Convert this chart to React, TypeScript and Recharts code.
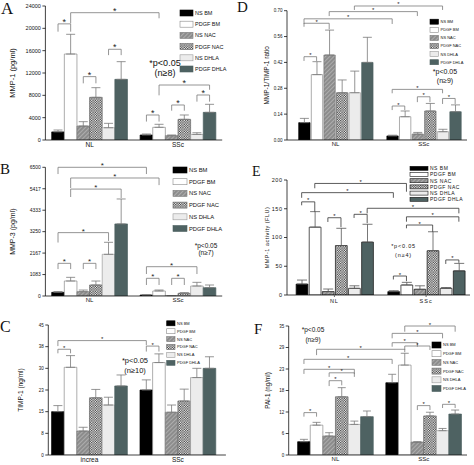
import React from "react";
import { BarChart, Bar, XAxis, YAxis, ErrorBar, Cell, ReferenceLine } from "recharts";

const series = ["NS BM", "PDGF BM", "NS NAC", "PDGF NAC", "NS DHLA", "PDGF DHLA"];
const groups = ["NL", "SSc"];
const groupsC = ["increa", "SSc"];

// A: MMP-1 (pg/ml)
const mmp1NL = [1450, 15400, 2500, 7640, 2200, 10860];
const mmp1NLErr = [340, 3530, 780, 1730, 785, 3170];
const mmp1SSc = [895, 2270, 780, 3700, 1000, 4950];
const mmp1SScErr = [180, 540, 120, 780, 300, 1440];
const mmp1Ticks = [0, 4000, 8000, 12000, 16000, 20000, 24000];
const mmp1TickLabels = ["0", "4000", "8000", "12000", "16000", "20000", "24000"];
// bracket: [from bar, to bar, top, left leg end, right leg end]
const mmp1Sig = [
  [0, 1, 20800, 19400, 19400],
  [1, 8, 22800, 20900, 21800],
  [2, 3, 11350, 10150, 10150],
  [4, 5, 16250, 15200, 15200],
  [7, 8, 4480, 3300, 3300],
  [9, 10, 6270, 5250, 5250],
  [11, 12, 8060, 6870, 6870],
  [8, 12, 9850, 8000, 9000],
];

// D: MMP-1/TIMP-1 ratio
const ratioNL = [0.094, 0.354, 0.46, 0.256, 0.256, 0.42];
const ratioNLErr = [0.023, 0.07, 0.135, 0.069, 0.117, 0.136];
const ratioSSc = [0.022, 0.126, 0.032, 0.157, 0.045, 0.153];
const ratioSScErr = [0.004, 0.031, 0.009, 0.041, 0.013, 0.037];
const ratioTicks = [0, 0.14, 0.28, 0.42, 0.56, 0.7];
const ratioTickLabels = ["0.00", "0.14", "0.28", "0.42", "0.56", "0.70"];
const ratioSig = [
  [4, 11, 0.7255, 0.704, 0.704],
  [2, 9, 0.695, 0.671, 0.671],
  [0, 7, 0.656, 0.628, 0.628],
  [0, 2, 0.632, 0.613, 0.6],
  [0, 1, 0.451, 0.428, 0.428],
  [7, 11, 0.274, 0.253, 0.253],
  [7, 8, 0.184, 0.162, 0.162],
  [9, 10, 0.234, 0.205, 0.205],
  [11, 12, 0.225, 0.195, 0.195],
];

// B: MMP-3 (pg/ml)
const mmp3NL = [185, 758, 220, 556, 2105, 3640];
const mmp3NLErr = [40, 185, 80, 200, 607, 1260];
const mmp3SSc = [50, 253, 17, 135, 505, 420];
const mmp3SScErr = [10, 50, 8, 35, 185, 136];
const mmp3Ticks = [0, 1083, 2167, 3250, 4333, 5417, 6500];
const mmp3TickLabels = ["0", "1083", "2167", "3250", "4333", "5417", "6500"];
const mmp3Sig = [
  [0, 7, 6500, 6160, 6160],
  [1, 8, 5960, 5450, 5600],
  [1, 5, 5400, 5000, 4950],
  [0, 4, 3200, 2700, 2780],
  [0, 1, 1650, 1360, 1360],
  [2, 3, 1650, 1360, 1360],
  [7, 11, 1480, 1110, 1110],
  [7, 8, 894, 556, 556],
  [9, 10, 894, 556, 556],
];

// E: MMP-1 activity (FLU)
const actNL = [19, 118, 6, 86, 11.6, 92];
const actNLErr = [7, 27, 4.4, 30, 4.4, 31];
const actSSc = [5.8, 17.4, 9.9, 77, 11.6, 42];
const actSScErr = [1.7, 4.6, 6.1, 33, 1.4, 13];
const actTicks = [0, 50, 100, 150, 200];
const actTickLabels = ["0", "50", "100", "150", "200"];
const actSig = [
  [1, 8, 194, 185.6, 179.6],
  [0, 7, 178, 169, 169],
  [0, 1, 162, 156, 145],
  [2, 3, 134.4, 127, 118],
  [4, 5, 140.3, 134, 125],
  [5, 12, 150.8, 142, 142],
  [8, 12, 136, 127.5, 127.5],
  [8, 10, 121.7, 116, 110],
  [7, 8, 33, 27, 24],
  [11, 12, 61, 54, 56],
];

// C: TIMP-1 (ng/ml)
const timpNL = [15, 30.35, 8.3, 19.8, 17.3, 23.9];
const timpNLErr = [2.1, 4.05, 1.3, 2.9, 2.7, 3.8];
const timpSSc = [22.5, 32, 14.8, 18.7, 26.8, 30];
const timpSScErr = [3.5, 3, 2.5, 4.1, 3.2, 4];
const timpTicks = [0, 7.5, 15, 22.5, 30, 37.5, 45];
const timpTickLabels = ["0", "8", "15", "23", "30", "38", "45"];
const timpSig = [
  [0, 7, 39.6, 37.7, 38],
  [0, 1, 36.6, 35.2, 35.2],
  [7, 8, 37.7, 35.8, 35.8],
];

// F: PAI-1 (ng/ml)
const paiNL = [3.6, 8.1, 5.15, 15.8, 8.3, 10.4];
const paiNLErr = [0.65, 0.76, 0.9, 2.47, 0.9, 1.54];
const paiSSc = [19.6, 24.4, 3.5, 10.6, 6.6, 11.1];
const paiSScErr = [2.3, 3.2, 0.1, 1.0, 0.6, 1.1];
const paiTicks = [0, 5.833, 11.667, 17.5, 23.333, 29.167, 35];
const paiTickLabels = ["0", "6", "12", "18", "23", "29", "35"];
const paiSig = [
  [8, 12, 35.0, 33.45, 33.45],
  [7, 11, 33.0, 31.66, 31.66],
  [7, 9, 30.47, 29.38, 29.38],
  [8, 10, 29.57, 28.5, 28.5],
  [1, 8, 28.68, 27.1, 27.9],
  [0, 7, 25.96, 24.7, 24.7],
  [0, 4, 23.25, 22.0, 22.0],
  [2, 4, 22.3, 21.2, 21.2],
  [2, 3, 20.16, 18.7, 18.9],
  [0, 1, 11.5, 10.4, 10.4],
  [9, 10, 13.4, 12.2, 12.2],
  [11, 12, 13.75, 12.75, 12.75],
];

const FILL = ["#000", "#fff", "url(#hatch)", "url(#check)", "#ececec", "#4e6262"];
const EDGE = ["#000", "#8a8a8a", "#7a7a7a", "#666", "#9a9a9a", "#4e6262"];
const FONT = "'Liberation Sans', Arial, sans-serif";

type Row = { pos: number; s: number; value: number; err: number[] };

const buildRows = (nl: number[], nlErr: number[], ssc: number[], sscErr: number[]): Row[] => [
  ...nl.map((v, i) => ({ pos: i, s: i, value: v, err: [0, nlErr[i]] })),
  ...ssc.map((v, i) => ({ pos: i + 7, s: i, value: v, err: [0, sscErr[i]] })),
];

type Cfg = {
  left: number; top: number;
  nl: number[]; nlErr: number[]; ssc: number[]; sscErr: number[];
  yTicks: number[]; yLabels: string[]; yTitle: string; yTitleX: number;
  yTitleFont: number; tickFont: number; catFont: number; cats: string[];
  mTop: number; mRight: number; yW: number; xH: number;
  xDomain: [number, number]; barSize: number; cap: number;
  sig: number[][]; starSize: number; starOff: number;
  boxed?: boolean; spacing?: number;
};

const Panel: React.FC<{ cfg: Cfg }> = ({ cfg }) => {
  const rows = buildRows(cfg.nl, cfg.nlErr, cfg.ssc, cfg.sscErr);
  const line = cfg.boxed ? "#333" : "#7a7a7a";
  const ls = cfg.spacing || 0;
  return (
    <div style={{ position: "absolute", left: cfg.left, top: cfg.top }}>
      <BarChart
        width={237}
        height={155}
        data={rows}
        margin={{ top: cfg.mTop, right: cfg.mRight, left: 0, bottom: 0 }}
        style={{ fontFamily: FONT }}
      >
        <XAxis
          dataKey="pos"
          type="number"
          domain={cfg.xDomain}
          allowDataOverflow
          ticks={[2.5, 9.5]}
          interval={0}
          tickFormatter={(v: number) => (v < 6 ? cfg.cats[0] : cfg.cats[1])}
          tickLine={!!cfg.boxed}
          tickSize={cfg.boxed ? 2 : 0}
          tickMargin={2}
          height={cfg.xH}
          axisLine={{ stroke: "#111", strokeWidth: 0.8 }}
          tick={{ fontSize: cfg.catFont, fill: "#111", letterSpacing: ls * 2 }}
        />
        <YAxis
          type="number"
          domain={[0, cfg.yTicks[cfg.yTicks.length - 1]]}
          allowDataOverflow
          ticks={cfg.yTicks}
          interval={0}
          tickFormatter={(v: number) => cfg.yLabels[cfg.yTicks.indexOf(v)]}
          width={cfg.yW}
          tickSize={3}
          tickMargin={1.5}
          axisLine={{ stroke: "#111", strokeWidth: 0.8 }}
          tickLine={{ stroke: "#111", strokeWidth: 0.8 }}
          tick={{ fontSize: cfg.tickFont, fill: "#111", letterSpacing: ls }}
          label={{
            value: cfg.yTitle,
            angle: -90,
            position: "insideLeft",
            offset: cfg.yTitleX,
            fontSize: cfg.yTitleFont,
            fill: "#111",
            style: { textAnchor: "middle", fontSize: cfg.yTitleFont, letterSpacing: ls },
          }}
        />
        <Bar dataKey="value" barSize={cfg.barSize} isAnimationActive={false}>
          {rows.map((r) => (
            <Cell
              key={r.pos}
              fill={FILL[r.s]}
              stroke={cfg.boxed ? "#111" : EDGE[r.s]}
              strokeWidth={0.7}
            />
          ))}
          <ErrorBar dataKey="err" direction="y" width={cfg.cap} stroke={cfg.boxed ? "#555" : "#7a7a7a"} strokeWidth={0.8} />
        </Bar>
        {cfg.sig.flatMap(([a, b, top, la, lb], k) => [
          <ReferenceLine
            key={`l${k}`}
            segment={[{ x: a, y: la }, { x: a, y: top }]}
            stroke={line}
            strokeWidth={0.8}
            ifOverflow="visible"
          />,
          <ReferenceLine
            key={`t${k}`}
            segment={[{ x: a, y: top }, { x: b, y: top }]}
            stroke={line}
            strokeWidth={0.8}
            ifOverflow="visible"
            label={{ value: "*", position: "top", offset: cfg.starOff, fontSize: cfg.starSize, fill: "#222" }}
          />,
          <ReferenceLine
            key={`r${k}`}
            segment={[{ x: b, y: top }, { x: b, y: lb }]}
            stroke={line}
            strokeWidth={0.8}
            ifOverflow="visible"
          />,
        ])}
      </BarChart>
    </div>
  );
};

const panels: Cfg[] = [
  {
    left: 0, top: 0, nl: mmp1NL, nlErr: mmp1NLErr, ssc: mmp1SSc, sscErr: mmp1SScErr,
    yTicks: mmp1Ticks, yLabels: mmp1TickLabels, yTitle: "MMP-1 (pg/ml)", yTitleX: 12.5,
    yTitleFont: 7.5, tickFont: 5.5, catFont: 6.5, cats: groups,
    mTop: 6, mRight: 14.8, yW: 45.4, xH: 15, xDomain: [-1, 13], barSize: 12.6, cap: 4.5,
    sig: mmp1Sig, starSize: 9, starOff: -1,
  },
  {
    left: 237, top: 0, nl: ratioNL, nlErr: ratioNLErr, ssc: ratioSSc, sscErr: ratioSScErr,
    yTicks: ratioTicks, yLabels: ratioTickLabels, yTitle: "MMP-1/TIMP-1 ratio", yTitleX: 30,
    yTitleFont: 6.5, tickFont: 4.5, catFont: 6, cats: groups,
    mTop: 10.7, mRight: 7, yW: 50, xH: 15, xDomain: [-1.35, 12.94], barSize: 12.6, cap: 4.5,
    sig: ratioSig, starSize: 6, starOff: -0.5,
  },
  {
    left: 0, top: 155, nl: mmp3NL, nlErr: mmp3NLErr, ssc: mmp3SSc, sscErr: mmp3SScErr,
    yTicks: mmp3Ticks, yLabels: mmp3TickLabels, yTitle: "MMP-3 (pg/ml)", yTitleX: 12.5,
    yTitleFont: 7, tickFont: 5, catFont: 6, cats: groups,
    mTop: 12.3, mRight: 14.8, yW: 45.4, xH: 14, xDomain: [-1, 13], barSize: 12.6, cap: 4.5,
    sig: mmp3Sig, starSize: 8, starOff: -1,
  },
  {
    left: 237, top: 155, nl: actNL, nlErr: actNLErr, ssc: actSSc, sscErr: actSScErr,
    yTicks: actTicks, yLabels: actTickLabels, yTitle: "MMP-1 activity (FLU)", yTitleX: 30,
    yTitleFont: 5.5, tickFont: 5.5, catFont: 5.5, cats: groups,
    mTop: 25, mRight: 4, yW: 50, xH: 15, xDomain: [-1.12, 12.85], barSize: 13.1, cap: 5,
    sig: actSig, starSize: 6, starOff: -0.5, boxed: true, spacing: 0.5,
  },
  {
    left: 0, top: 310, nl: timpNL, nlErr: timpNLErr, ssc: timpSSc, sscErr: timpSScErr,
    yTicks: timpTicks, yLabels: timpTickLabels, yTitle: "TIMP-1 (ng/ml)", yTitleX: 20.5,
    yTitleFont: 6.5, tickFont: 4.5, catFont: 6.5, cats: groupsC,
    mTop: 15, mRight: 11.1, yW: 48.3, xH: 10, xDomain: [-0.76, 13.3], barSize: 12.6, cap: 4.5,
    sig: timpSig, starSize: 6, starOff: -0.5,
  },
  {
    left: 237, top: 310, nl: paiNL, nlErr: paiNLErr, ssc: paiSSc, sscErr: paiSScErr,
    yTicks: paiTicks, yLabels: paiTickLabels, yTitle: "PAI-1 (ng/ml)", yTitleX: 30.5,
    yTitleFont: 6.3, tickFont: 4.5, catFont: 6, cats: groups,
    mTop: 16, mRight: 7, yW: 51.7, xH: 10, xDomain: [-1.21, 12.94], barSize: 12.6, cap: 4,
    sig: paiSig, starSize: 6, starOff: -0.5,
  },
];

type LegendCfg = { x: number; y0: number; step: number; w: number; h: number; fs: number; boxed?: boolean };

const legends: LegendCfg[] = [
  { x: 180, y0: 13, step: 11.2, w: 13, h: 6, fs: 5.5 },
  { x: 430, y0: 21.7, step: 8.1, w: 8.5, h: 5, fs: 4 },
  { x: 173, y0: 170, step: 11.7, w: 14, h: 6, fs: 5.8 },
  { x: 410, y0: 168.3, step: 6.2, w: 18, h: 4, fs: 5, boxed: true },
  { x: 166.7, y0: 323.3, step: 7.9, w: 8.3, h: 5, fs: 4 },
  { x: 432, y0: 345, step: 8.7, w: 9, h: 6, fs: 4 },
];

const notes = [
  { x: 165, y: 66, y2: 76, fs: 9, n: "(n≥8)" },
  { x: 445, y: 73.5, y2: 82.5, fs: 7, n: "(n≥9)" },
  { x: 206, y: 247.5, y2: 255, fs: 6.5, n: "(n≥7)" },
  { x: 403.5, y: 247.5, y2: 256.5, fs: 5.5, n: "(n≥4)", ls: 0.8 },
  { x: 135, y: 362.5, y2: 373, fs: 7.5, n: "(n≥10)" },
  { x: 313, y: 332, y2: 341.5, fs: 6.5, n: "(n≥9)" },
];

const letters = [
  { t: "A", x: 1, y: 13.5, fs: 17 },
  { t: "D", x: 237, y: 11.5, fs: 15 },
  { t: "B", x: 0, y: 173.5, fs: 15 },
  { t: "E", x: 252, y: 175.5, fs: 14 },
  { t: "C", x: 0, y: 331.5, fs: 16 },
  { t: "F", x: 254, y: 333.5, fs: 15 },
];

const App: React.FC = () => (
  <div style={{ position: "absolute", left: 0, top: 0, width: 474, height: 465, background: "#fff", overflow: "hidden" }}>
    <svg width={0} height={0} style={{ position: "absolute" }}>
      <defs>
        <pattern id="hatch" width={3} height={3} patternUnits="userSpaceOnUse" patternTransform="rotate(45)">
          <rect width={3} height={3} fill="#8c8c8c" />
          <line x1={0} y1={0} x2={0} y2={3} stroke="#c4c4c4" strokeWidth={1.2} />
        </pattern>
        <pattern id="check" width={2.4} height={2.4} patternUnits="userSpaceOnUse">
          <rect width={2.4} height={2.4} fill="#fff" />
          <rect width={1.2} height={1.2} fill="#333" />
          <rect x={1.2} y={1.2} width={1.2} height={1.2} fill="#333" />
        </pattern>
      </defs>
    </svg>
    {panels.map((p, i) => (
      <Panel key={i} cfg={p} />
    ))}
    <svg width={474} height={465} style={{ position: "absolute", left: 0, top: 0, pointerEvents: "none", fontFamily: FONT }}>
      {legends.map((lg, i) => (
        <g key={i}>
          {series.map((s, k) => {
            const y = lg.y0 + k * lg.step;
            return (
              <g key={s}>
                <rect
                  x={lg.x}
                  y={y - lg.h / 2}
                  width={lg.w}
                  height={lg.h}
                  fill={FILL[k]}
                  stroke={lg.boxed ? "#111" : EDGE[k]}
                  strokeWidth={0.6}
                />
                <text
                  x={lg.x + lg.w + 2}
                  y={y + lg.fs * 0.36}
                  fontSize={lg.fs}
                  fill="#111"
                  letterSpacing={lg.boxed ? 0.5 : 0}
                >
                  {s}
                </text>
              </g>
            );
          })}
        </g>
      ))}
      {notes.map((n, i) => (
        <g key={i} fontSize={n.fs} fill="#111" textAnchor="middle" letterSpacing={n.ls || 0}>
          <text x={n.x} y={n.y}>*p&lt;0.05</text>
          <text x={n.x} y={n.y2}>{n.n}</text>
        </g>
      ))}
      {letters.map((l) => (
        <text key={l.t} x={l.x} y={l.y} fontSize={l.fs} fontFamily="'Liberation Serif', 'Times New Roman', serif" fill="#111">
          {l.t}
        </text>
      ))}
    </svg>
  </div>
);

export default App;
